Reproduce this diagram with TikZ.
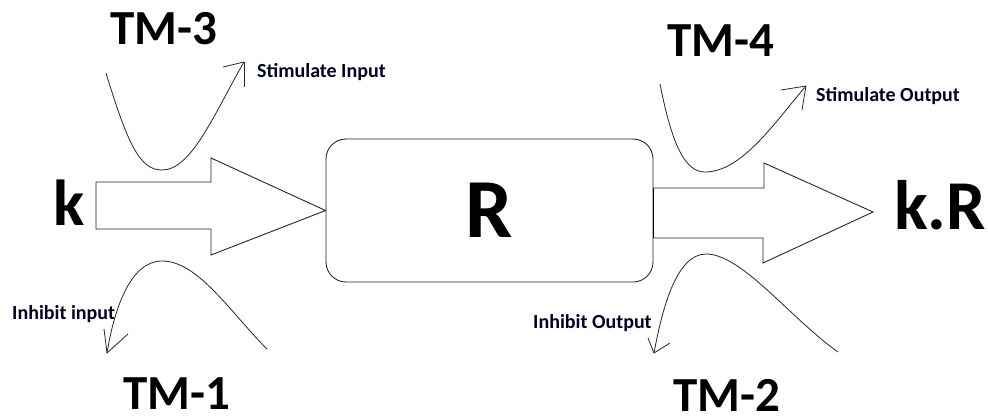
\documentclass[tikz,border=0pt]{standalone}
\usepackage{fontspec}
\setmainfont{Carlito}
\begin{document}
\begin{tikzpicture}[x=1pt,y=-1pt,
  outline/.style={draw=black!85,line width=0.9pt,line join=miter},
  curve/.style={draw=black!85,line width=0.8pt},
  big/.style={font=\bfseries\fontsize{49}{49}\selectfont,inner sep=0pt},
  small/.style={font=\bfseries\fontsize{20}{20}\selectfont,inner sep=0pt,text=black!85!blue}]
\useasboundingbox (0,0) rectangle (988,416);

% central block
\node[outline,rounded corners=20pt,minimum width=327pt,minimum height=143pt,
      font=\bfseries\fontsize{84}{84}\selectfont] (R) at (489.5,210.5) {R};

% input and output block arrows
\draw[outline] (96,182) -- (211,182) -- (211,158) -- (R.west) -- (211,255)
  -- (211,229) -- (96,229) -- cycle;
\draw[outline] (R.east |- 0,188) -- (764,188) -- (764,163) -- (873,212)
  -- (763,263) -- (763,238) -- (R.east |- 0,238);
\draw[line width=1.6pt] (R.east |- 0,188) -- (R.east |- 0,238);

% end labels
\node[font=\bfseries\fontsize{65}{65}\selectfont,inner sep=0pt,anchor=base] (k) at (69,225) {k};
\node[font=\bfseries\fontsize{70}{70}\selectfont,inner sep=0pt,anchor=base] (kR) at (940,229) {k.R};

% modulator titles
\node[big] (tm3) at (164,29) {TM-3};
\node[big] (tm4) at (721,41) {TM-4};
\node[big,anchor=base] (tm1) at (177,409) {TM-1};
\node[big,anchor=base] (tm2) at (727,411) {TM-2};

% stimulate input
\coordinate (s3) at (106,73);
\coordinate (t3) at (244,62);
\draw[curve] (s3) .. controls (128,145) and (140,170) .. (162,170)
  .. controls (192,170) and (215,112) .. (t3);
\draw[curve] (t3) -- (223,67);
\draw[curve] (t3) -- (244,87);
\node[small,anchor=west] (si) at (257,72) {Stimulate Input};

% stimulate output
\coordinate (s4) at (660,84);
\coordinate (t4) at (806,86);
\draw[curve] (s4) .. controls (672,145) and (685,172) .. (705,172)
  .. controls (742,172) and (775,122) .. (t4);
\draw[curve] (t4) -- (781,90);
\draw[curve] (t4) -- (802,110);
\node[small,anchor=west] (so) at (816,96) {Stimulate Output};

% inhibit input
\coordinate (s1) at (267,349);
\coordinate (t1) at (107,353);
\draw[curve] (s1) .. controls (230,312) and (198,261) .. (162,261)
  .. controls (130,261) and (114,310) .. (t1);
\draw[curve] (t1) -- (104,329);
\draw[curve] (t1) -- (128,334);
\node[small,anchor=west] (ii) at (12,314) {Inhibit input};

% inhibit output
\coordinate (s2) at (838,352);
\coordinate (t2) at (654,353);
\draw[curve] (s2) .. controls (790,318) and (742,254) .. (706,254)
  .. controls (676,254) and (662,310) .. (t2);
\draw[curve] (t2) -- (648,338);
\draw[curve] (t2) -- (670,343);
\node[small,anchor=west] (io) at (533,323) {Inhibit Output};
\end{tikzpicture}
\end{document}
